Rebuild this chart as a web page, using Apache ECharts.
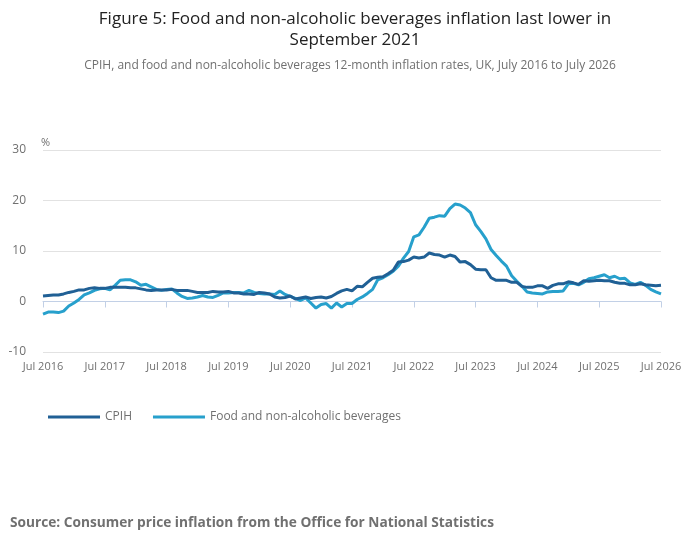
<!DOCTYPE html>
<html>
<head>
<meta charset="utf-8">
<script src="https://cdn.jsdelivr.net/npm/echarts@6/dist/echarts.min.js"></script>
<style>
  html, body { margin: 0; padding: 0; background: #fff; }
  #chart { width: 700px; height: 549px; }
</style>
</head>
<body>
<div id="chart"></div>
<script>
// months Jul 2016 .. Jul 2026
var monthNames = ['Jan', 'Feb', 'Mar', 'Apr', 'May', 'Jun', 'Jul', 'Aug', 'Sep', 'Oct', 'Nov', 'Dec'];
var months = [];
for (var i = 0; i < 121; i++) {
  var m = (6 + i) % 12;
  var y = 2016 + Math.floor((6 + i) / 12);
  months.push(monthNames[m] + ' ' + y);
}

// CPIH 12-month rate, %
var cpih = [
  1.1, 1.2, 1.3, 1.3, 1.5, 1.8,
  2.0, 2.3, 2.3, 2.6, 2.7, 2.6, 2.6, 2.8, 2.8, 2.8, 2.8, 2.7,
  2.7, 2.5, 2.3, 2.2, 2.3, 2.3, 2.3, 2.4, 2.2, 2.2, 2.2, 2.0,
  1.8, 1.8, 1.8, 2.0, 1.9, 1.9, 2.0, 1.7, 1.7, 1.5, 1.5, 1.4,
  1.8, 1.7, 1.5, 0.9, 0.7, 0.8, 1.1, 0.5, 0.7, 0.9, 0.6, 0.8,
  0.9, 0.7, 1.0, 1.6, 2.1, 2.4, 2.1, 3.0, 2.9, 3.8, 4.6, 4.8,
  4.9, 5.5, 6.2, 7.8, 7.9, 8.2, 8.8, 8.6, 8.8, 9.6, 9.3, 9.2,
  8.8, 9.2, 8.9, 7.8, 7.9, 7.3, 6.4, 6.3, 6.3, 4.7, 4.2, 4.2,
  4.2, 3.8, 3.8, 3.0, 2.8, 2.8, 3.1, 3.1, 2.6, 3.2, 3.5, 3.5,
  3.9, 3.7, 3.4, 4.1, 4.0, 4.1, 4.2, 4.1, 4.1, 3.8, 3.6, 3.6,
  3.3, 3.3, 3.5, 3.3, 3.2, 3.1, 3.2
];

// food and non-alcoholic beverages 12-month rate, %
var food = [
  -2.5, -2.1, -2.1, -2.2, -1.9, -0.9,
  -0.3, 0.4, 1.3, 1.7, 2.2, 2.5, 2.6, 2.3, 3.2, 4.2, 4.3, 4.3,
  3.9, 3.2, 3.4, 2.9, 2.4, 2.2, 2.4, 2.5, 1.7, 1.0, 0.6, 0.7,
  0.9, 1.2, 0.9, 0.8, 1.2, 1.7, 1.7, 1.8, 1.8, 1.7, 2.2, 1.8,
  1.6, 1.5, 1.5, 1.4, 2.1, 1.4, 1.0, 0.6, 0.2, 0.7, -0.3, -1.3,
  -0.6, -0.4, -1.3, -0.3, -1.1, -0.4, -0.4, 0.4, 0.9, 1.6, 2.4, 4.3,
  4.7, 5.3, 6.0, 7.0, 8.6, 9.9, 12.8, 13.2, 14.7, 16.5, 16.7, 17.0,
  16.9, 18.4, 19.3, 19.1, 18.5, 17.6, 15.2, 13.9, 12.4, 10.3, 9.1, 8.0,
  7.0, 5.1, 4.0, 3.0, 1.9, 1.7, 1.6, 1.5, 1.9, 2.0, 2.0, 2.1,
  3.5, 3.6, 3.3, 3.8, 4.5, 4.7, 5.0, 5.3, 4.7, 5.0, 4.5, 4.6,
  3.7, 3.4, 3.8, 3.2, 2.4, 1.9, 1.5
];

var yTicks = [-10, 0, 10, 20, 30];

var font = '"Open Sans", "Noto Sans", sans-serif';
var grey = '#707070';

var chart = echarts.init(document.getElementById('chart'), null, { renderer: 'canvas' });

var option = {
  animation: false,
  textStyle: { fontFamily: font },
  title: [{
    text: 'Figure 5: Food and non-alcoholic beverages inflation last lower in\nSeptember 2021',
    left: 350,
    top: 4,
    textAlign: 'center',
    textStyle: { fontFamily: font, fontSize: 17, fontWeight: 'normal', color: '#222222', lineHeight: 21 }
  }, {
    text: 'CPIH, and food and non-alcoholic beverages 12-month inflation rates, UK, July 2016 to July 2026',
    left: 'center',
    top: 55,
    textStyle: { fontFamily: font, fontSize: 12, fontWeight: 'normal', color: grey }
  }, {
    text: 'Source: Consumer price inflation from the Office for National Statistics',
    left: 5,
    top: 511,
    textStyle: { fontFamily: font, fontSize: 13.7, fontWeight: 'bold', color: grey }
  }],
  legend: {
    left: 43,
    top: 406,
    itemWidth: 52,
    itemHeight: 3,
    itemGap: 21,
    icon: 'rect',
    textStyle: { fontFamily: font, fontSize: 12, color: grey },
    data: ['CPIH', 'Food and non-alcoholic beverages']
  },
  grid: {
    left: 43,
    right: 39,
    top: 150,
    bottom: 197
  },
  xAxis: {
    type: 'category',
    data: months,
    boundaryGap: false,
    axisLine: { lineStyle: { color: '#c2d0e6', width: 1 } },
    axisTick: { show: true, interval: 11, length: 6, lineStyle: { color: '#c2d0e6' } },
    axisLabel: { interval: 11, color: grey, fontSize: 11, margin: 9 },
    splitLine: { show: false }
  },
  yAxis: {
    type: 'value',
    min: yTicks[0],
    max: yTicks[yTicks.length - 1],
    interval: 10,
    name: '%',
    nameLocation: 'end',
    nameGap: 2,
    nameTextStyle: { color: grey, fontSize: 11, align: 'left', padding: [0, 0, 0, -2] },
    axisLine: { show: false },
    axisTick: { show: false },
    axisLabel: { color: grey, fontSize: 12, margin: 17 },
    splitLine: { lineStyle: { color: '#e2e2e2', width: 1 } }
  },
  series: [{
    name: 'CPIH',
    type: 'line',
    data: cpih,
    symbol: 'none',
    itemStyle: { color: '#206095' },
    lineStyle: { color: '#206095', width: 3 },
    z: 3
  }, {
    name: 'Food and non-alcoholic beverages',
    type: 'line',
    data: food,
    symbol: 'none',
    itemStyle: { color: '#27a0cc' },
    lineStyle: { color: '#27a0cc', width: 3 },
    z: 2
  }]
};

chart.setOption(option);
</script>
</body>
</html>
